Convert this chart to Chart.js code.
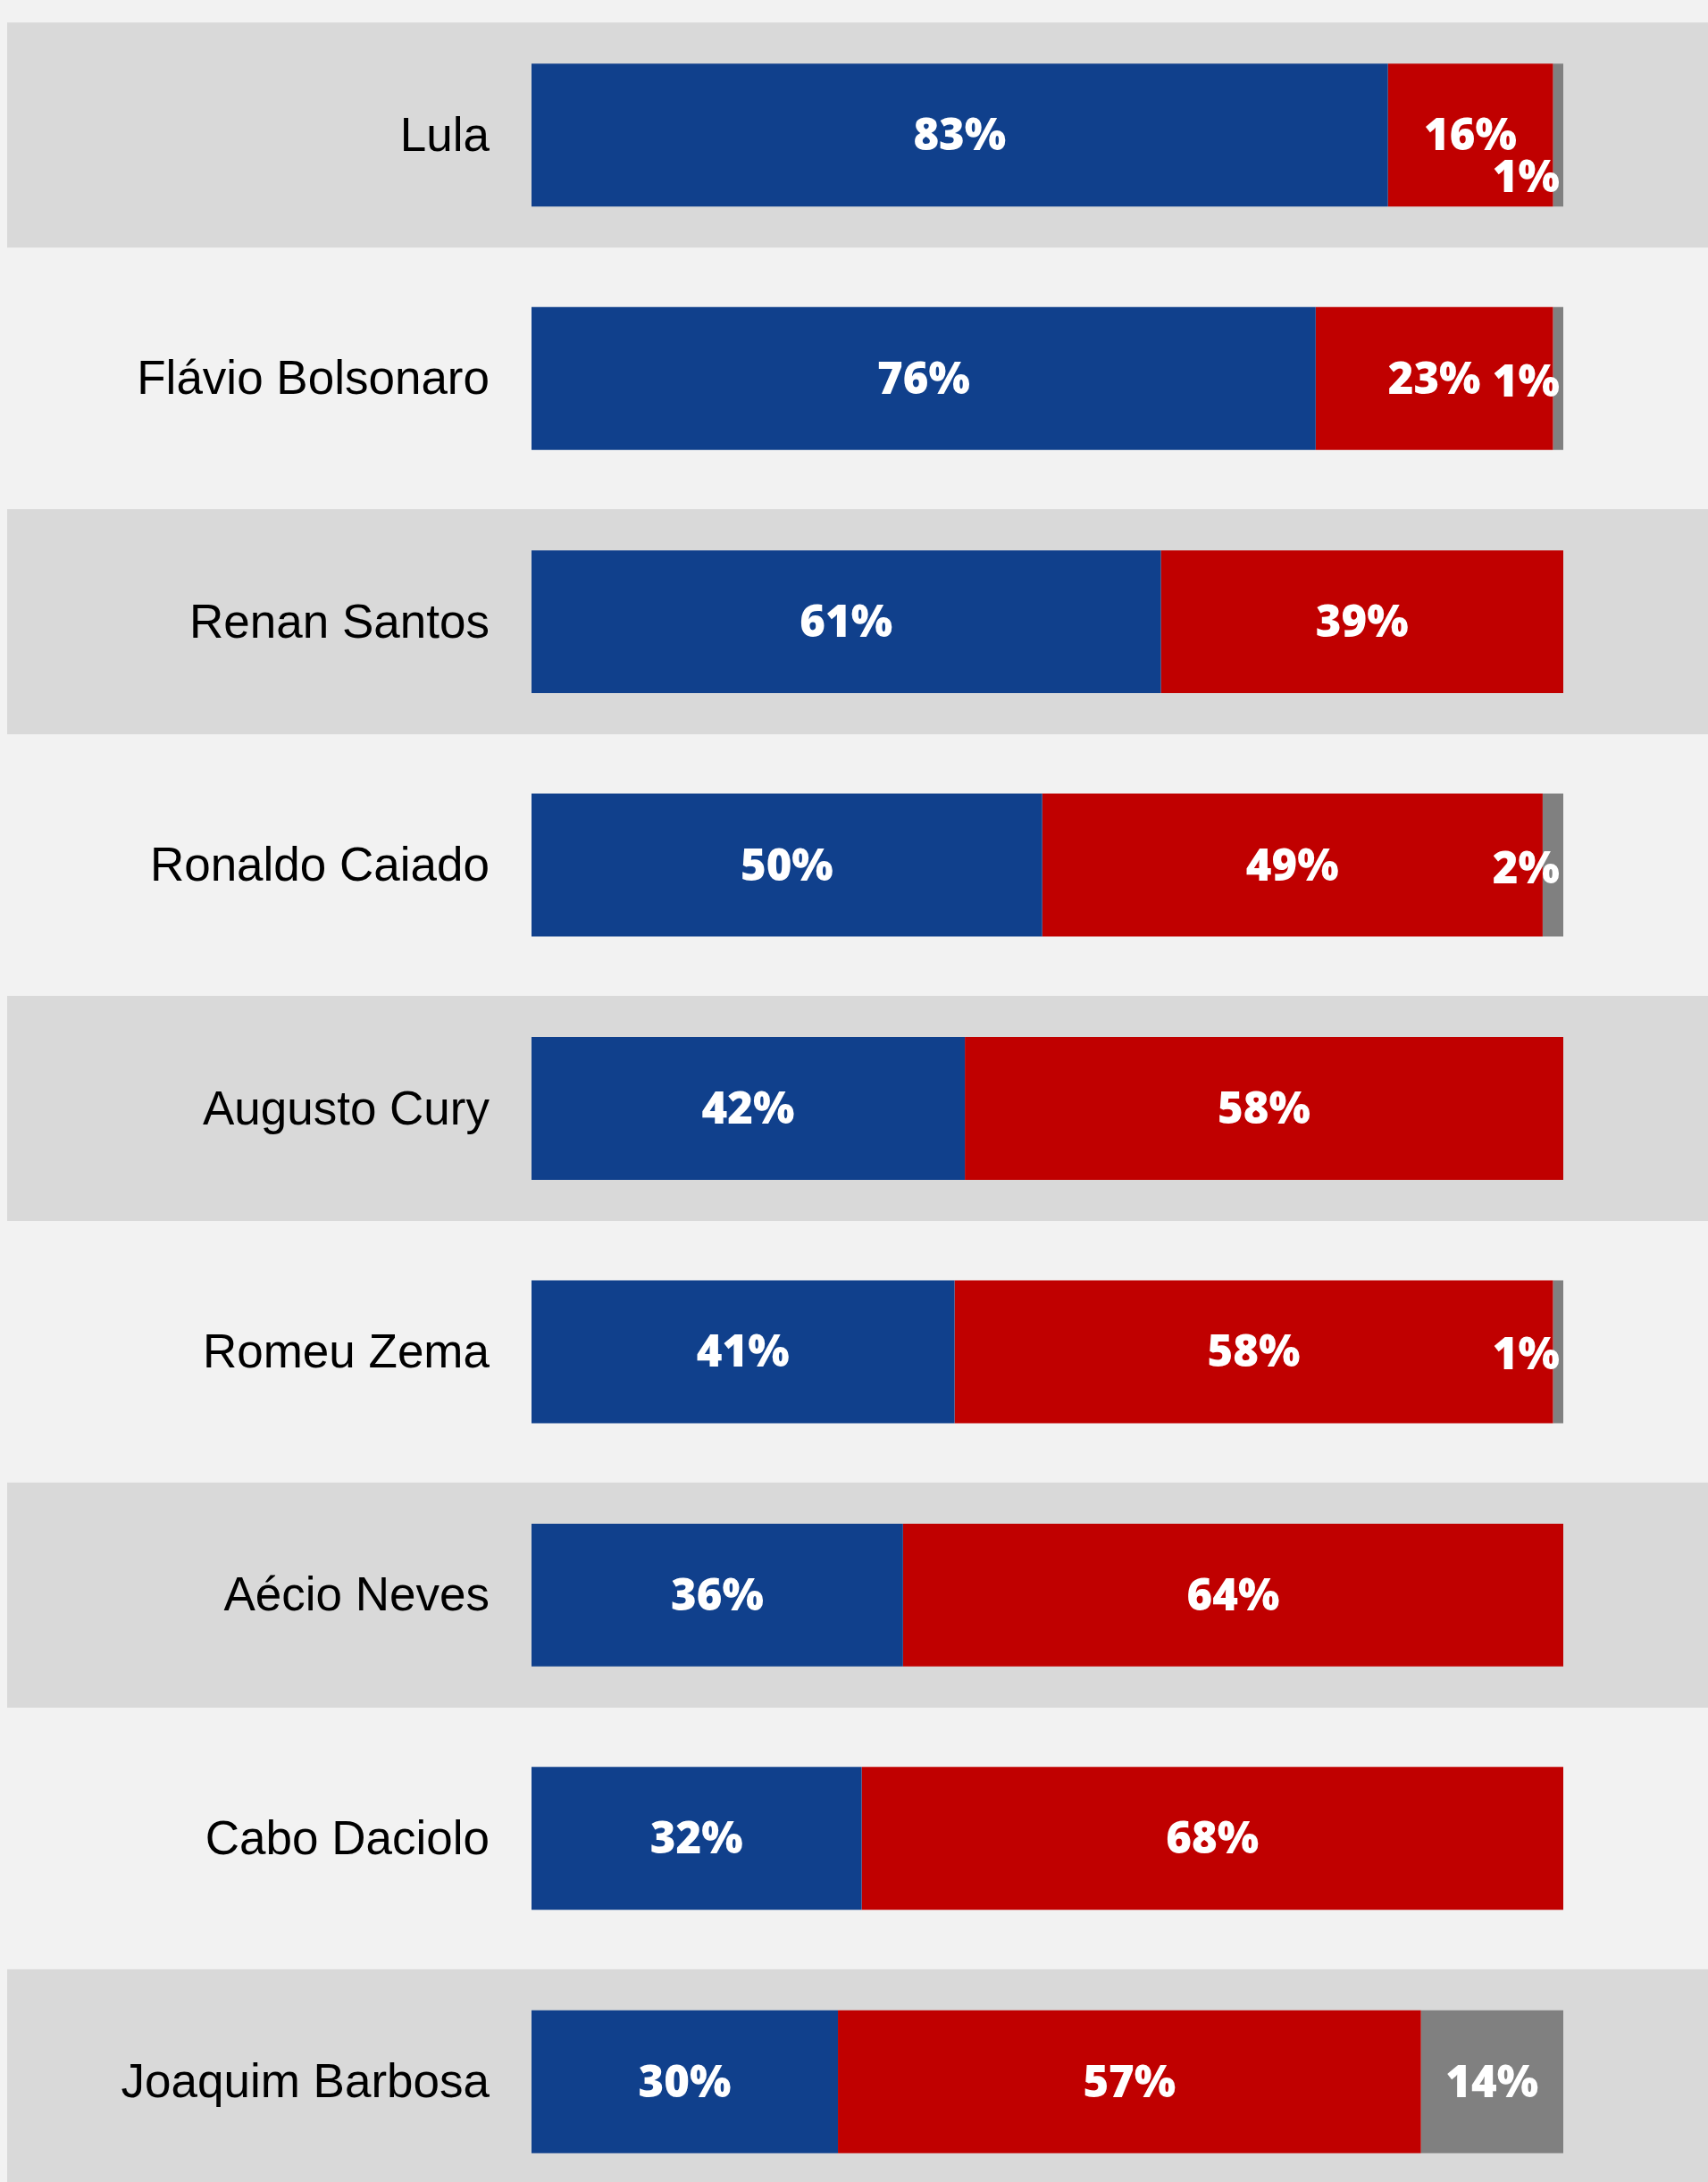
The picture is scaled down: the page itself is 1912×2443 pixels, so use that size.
<!DOCTYPE html>
<html>
<head>
<meta charset="utf-8">
<script src="https://cdn.jsdelivr.net/npm/chart.js@4/dist/chart.umd.min.js"></script>
<style>
  html, body { margin: 0; padding: 0; background: #f2f2f2; overflow: hidden; }
  #wrap { width: 1912px; height: 2443px; overflow: hidden; }
  canvas { display: block; }
</style>
</head>
<body>
<div id="wrap"><canvas id="c" width="1912" height="2470"></canvas></div>
<script>
// ---- data ----
const categories = ["Lula", "Flávio Bolsonaro", "Renan Santos", "Ronaldo Caiado", "Augusto Cury", "Romeu Zema", "Aécio Neves", "Cabo Daciolo", "Joaquim Barbosa"];
const bluePct = [83, 76, 61, 49.5, 42, 41, 36, 32, 29.7];
const redPct  = [16, 23, 39, 48.5, 58, 58, 64, 68, 56.5];
const grayPct = [1, 1, 0, 2, 0, 1, 0, 0, 13.8];

const COLORS = { blue: "#10408c", red: "#c00000", gray: "#808080", band: "#d9d9d9", bg: "#f2f2f2" };

const bgPlugin = {
  id: "bands",
  beforeDraw(chart) {
    const ctx = chart.ctx;
    ctx.save();
    ctx.fillStyle = COLORS.bg;
    ctx.fillRect(0, 0, chart.width, chart.height);
    const y = chart.scales.y;
    const pitch = y.getPixelForValue(1) - y.getPixelForValue(0);
    const half = pitch * 0.4625;
    ctx.fillStyle = COLORS.band;
    for (let i = 0; i < categories.length; i += 2) {
      const cy = y.getPixelForValue(i);
      ctx.fillRect(8, cy - half, chart.width - 8, half * 2);
    }
    ctx.restore();
  }
};

const labelPlugin = {
  id: "valueLabels",
  afterDatasetsDraw(chart) {
    const ctx = chart.ctx;
    const xs = chart.scales.x;
    const endX = xs.getPixelForValue(100);
    ctx.save();
    ctx.fillStyle = "#ffffff";
    ctx.font = "800 49px 'Open Sans'";
    ctx.textBaseline = "middle";
    for (let i = 0; i < categories.length; i++) {
      let prevRight = -Infinity;
      chart.data.datasets.forEach((ds, di) => {
        const v = ds.data[i];
        if (!v) return;
        const el = chart.getDatasetMeta(di).data[i];
        const txt = Math.round(v) + "%";
        const w = ctx.measureText(txt).width;
        let x, y = el.y + 3, align;
        if (v < 5) {
          align = "right";
          x = endX - 4;
          if (x - w < prevRight + 4) y += 47;
          else y += 3;
          prevRight = x;
        } else {
          align = "center";
          x = (el.base + el.x) / 2;
          prevRight = x + w / 2;
        }
        ctx.textAlign = align;
        ctx.fillText(txt, x, y);
      });
    }
    ctx.restore();
  }
};

new Chart(document.getElementById("c"), {
  type: "bar",
  data: {
    labels: categories,
    datasets: [
      { label: "blue", data: bluePct, backgroundColor: COLORS.blue },
      { label: "red", data: redPct, backgroundColor: COLORS.red },
      { label: "gray", data: grayPct, backgroundColor: COLORS.gray }
    ]
  },
  options: {
    indexAxis: "y",
    responsive: false,
    devicePixelRatio: 1,
    animation: false,
    layout: { padding: { top: 15, bottom: 3, right: 162, left: 0 } },
    datasets: { bar: { categoryPercentage: 1, barPercentage: 0.587, borderWidth: 0 } },
    scales: {
      x: { stacked: true, min: 0, max: 100, display: false },
      y: {
        stacked: true,
        grid: { display: false, drawTicks: false },
        border: { display: false },
        ticks: { color: "#000000", padding: 47, labelOffset: 3, font: { family: "'Liberation Sans', Arial", size: 53 } },
        afterFit(scale) { scale.width = 595; scale.paddingTop = 0; scale.paddingBottom = 0; }
      }
    },
    plugins: { legend: { display: false }, tooltip: { enabled: false } }
  },
  plugins: [bgPlugin, labelPlugin]
});
</script>
</body>
</html>
